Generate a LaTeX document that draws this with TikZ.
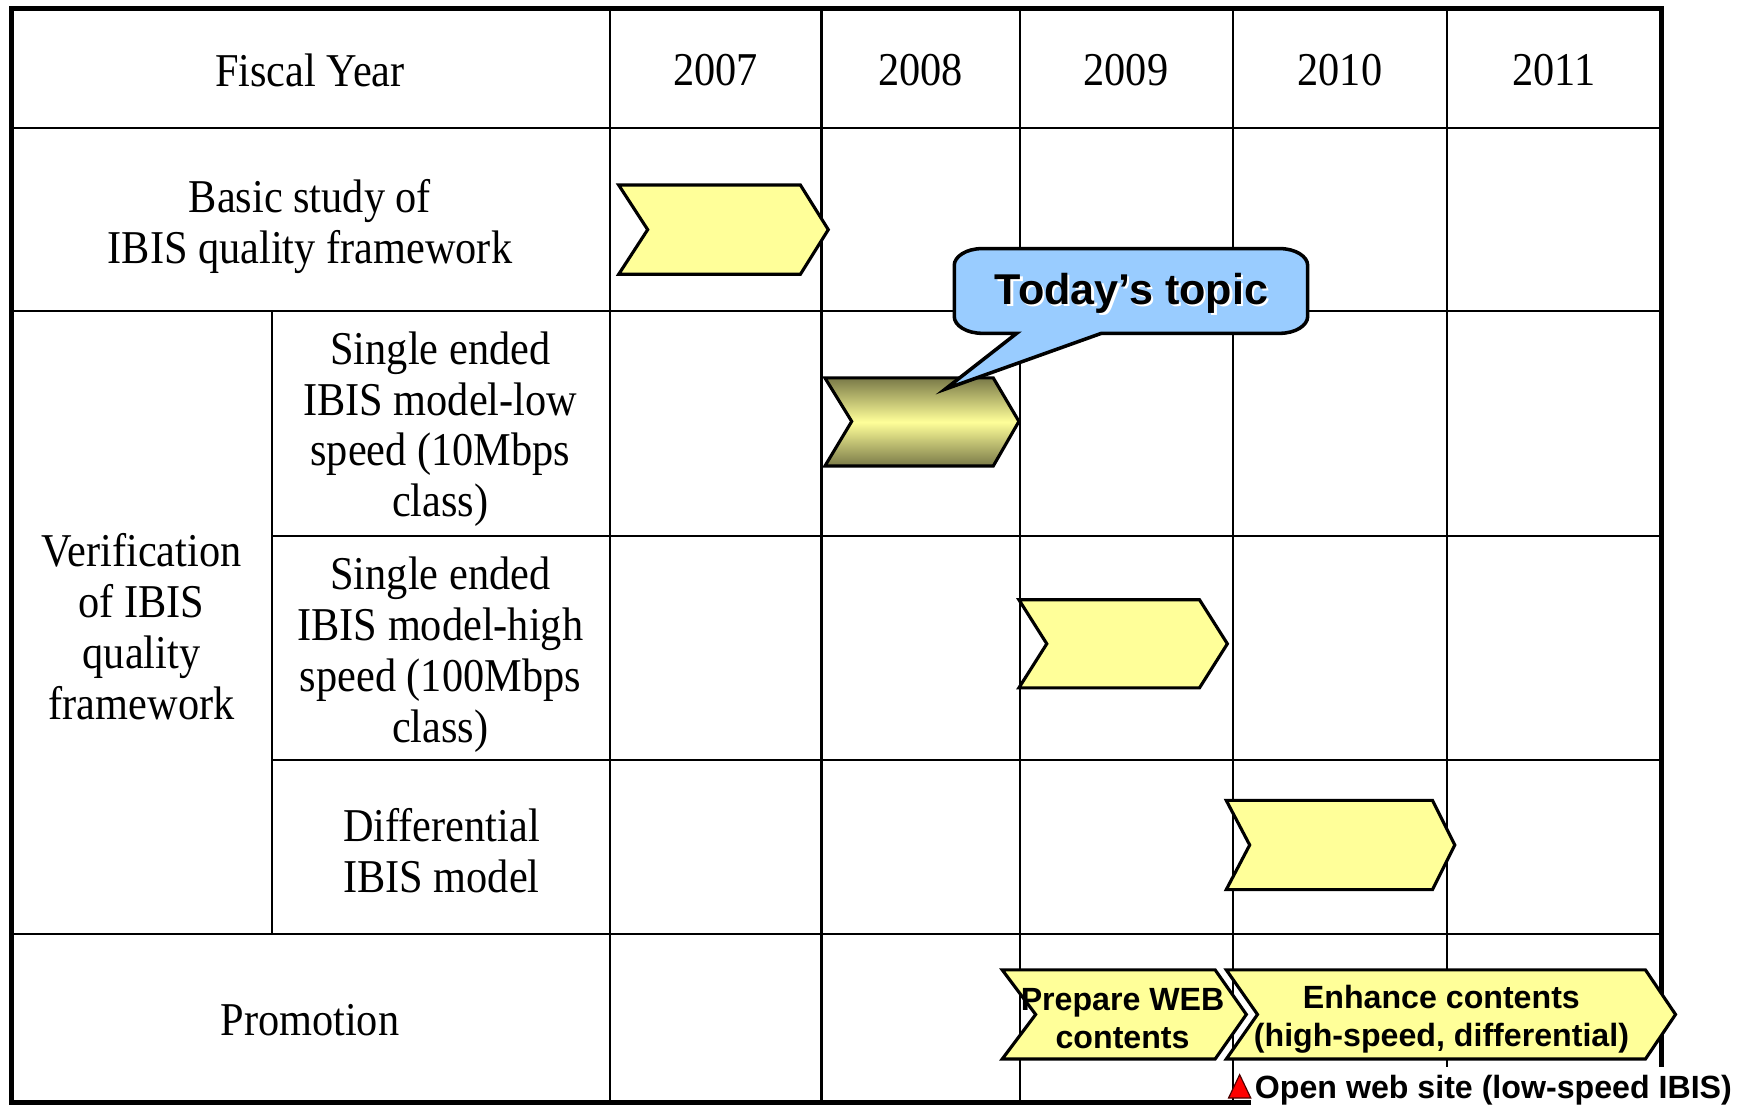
\documentclass[tikz,border=0pt]{standalone}
\usepackage{fontspec}
\setmainfont{Liberation Serif}
\newfontfamily\tnr{Liberation Serif}[FakeStretch=0.9]
\newfontfamily\sansfam{Liberation Sans}
\definecolor{chevyellow}{HTML}{FFFF99}
\definecolor{chevolive}{HTML}{7A7A48}
\definecolor{calloutblue}{HTML}{99CCFF}
\begin{document}
\begin{tikzpicture}[x=0.01cm, y=-0.01cm,
  gridline/.style={line width=0.6pt},
  borderline/.style={line width=1.3pt},
  chev/.style={draw=black, line width=0.8pt, fill=chevyellow, line join=miter},
  rowtext/.style={font=\tnr\fontsize{12}{13}\selectfont, align=center, inner sep=0pt},
  boldlbl/.style={font=\sansfam\bfseries\fontsize{8.2}{9.7}\selectfont, align=center, inner sep=0pt},
  topicfont/.style={font=\sansfam\bfseries\fontsize{11}{12}\selectfont, inner sep=0pt},
]
\useasboundingbox (0,0) rectangle (1568,994);

% grid
\foreach \y in {115,279,838} \draw[gridline] (10,\y) -- (1490,\y);
\foreach \y in {481,682} \draw[gridline] (244,\y) -- (1490,\y);
\draw[gridline] (244,279) -- (244,838);
\foreach \x in {547,737,915,1106} \draw[gridline] (\x,8) -- (\x,989);
\draw[gridline] (1298,8) -- (1298,957);
% outer border
\draw[borderline] (1122,989) -- (10,989) -- (10,8) -- (1490,8) -- (1490,957);

% header texts
\node[rowtext] (fy) at (278,63) {Fiscal Year};
\node[rowtext] (y2007) at (642,63) {2007};
\node[rowtext] (y2008) at (826,63) {2008};
\node[rowtext] (y2009) at (1010,63) {2009};
\node[rowtext] (y2010) at (1202,63) {2010};
\node[rowtext] (y2011) at (1394,63) {2011};

% row labels
\node[rowtext] (basic) at (278,203) {Basic study of\\IBIS quality framework};
\node[rowtext] (low) at (395,385) {Single ended\\IBIS model-low\\speed (10Mbps\\class)};
\node[rowtext] (high) at (395,587) {Single ended\\IBIS model-high\\speed (100Mbps\\class)};
\node[rowtext] (diff) at (396,763) {Differential\\IBIS model};
\node[rowtext] (verif) at (127,562) {Verification\\of IBIS\\quality\\framework};
\node[rowtext] (promo) at (278,915) {Promotion};

% yellow chevrons
\foreach \L/\R/\tp/\nt/\T/\B in {555/718/743/581/166/246, 914/1076/1101/939/538/617, 1100/1285/1305/1121/718/798, 899/1090/1118/929/870/950, 1100/1476/1503/1128/870/950}
  \draw[chev] (\L,\T) -- (\R,\T) -- (\tp,{(\T+\B)/2}) -- (\R,\B) -- (\L,\B) -- (\nt,{(\T+\B)/2}) -- cycle;
% shaded chevron (today's topic)
\draw[chev, top color=chevolive, bottom color=chevolive, middle color=chevyellow]
  (740,339) -- (891,339) -- (914,378) -- (891,418) -- (740,418) -- (764,378) -- cycle;

% promotion labels
\node[boldlbl] (prep) at (1007,914) {Prepare WEB\\contents};
\node[boldlbl] (enh) at (1293,914) {Enhance contents\\(high-speed, differential)};

% callout
\draw[line width=0.9pt, fill=calloutblue]
  (881,223) -- (1148,223) .. controls (1162,223) and (1173,230) .. (1173,238)
  -- (1173,284) .. controls (1173,292) and (1162,299) .. (1148,299)
  -- (988,299) -- (848,349) -- (912,299) -- (881,299)
  .. controls (867,299) and (856,292) .. (856,284)
  -- (856,238) .. controls (856,230) and (867,223) .. (881,223) -- cycle;
\node[topicfont, text=white] (topicshadow) at (1017,265) {Today’s topic};
\node[topicfont] (topic) at (1015,263) {Today’s topic};

% milestone
\draw[fill=red, draw=black!70!red, line width=0.3pt] (1102,985) -- (1122,985) -- (1112,964) -- cycle;
\node[boldlbl, anchor=base west] (open) at (1125,985) {Open web site (low-speed IBIS)};
\end{tikzpicture}
\end{document}
